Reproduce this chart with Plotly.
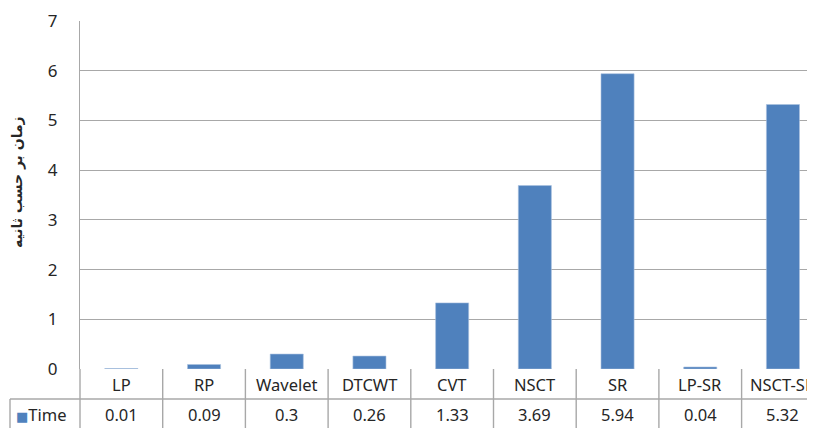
import plotly.graph_objects as go

categories = ["LP", "RP", "Wavelet", "DTCWT", "CVT", "NSCT", "SR", "LP-SR", "NSCT-SR"]
time_values = [0.01, 0.09, 0.3, 0.26, 1.33, 3.69, 5.94, 0.04, 5.32]
value_labels = ["0.01", "0.09", "0.3", "0.26", "1.33", "3.69", "5.94", "0.04", "5.32"]
series_name = "Time"
y_title = "زمان بر حسب ثانیه"
y_ticks = [0, 1, 2, 3, 4, 5, 6, 7]

# page body has an 8px margin; size the figure so it fills the 815x428 window
OFF = 8
W, H = 815 - OFF, 428 - OFF
ML, MT, MB = 80 - OFF, 21 - OFF, 59
plot_h = H - MT - MB
plot_w = W - ML
cat_px = 82.7

bar_color = "#4f81bd"
grid_color = "#a8a8a8"
text_color = "#262626"
font_family = "Noto Sans, Open Sans, DejaVu Sans, sans-serif"

fig = go.Figure()
fig.add_trace(go.Bar(
    x=categories, y=time_values, name=series_name,
    marker=dict(color=bar_color, line=dict(color="#a9c1df", width=0.6)),
    width=0.4, showlegend=False,
))

n = len(categories)
x_max = -0.5 + plot_w / cat_px

def py(px):
    # screen pixel y (from window top) -> paper coordinate
    return (H - MB - (px - OFF)) / plot_h

def pxx(px):
    return (px - OFF - ML) / plot_w

shapes = []
line = dict(color=grid_color, width=1.4)
# table horizontal line between category row and value row
shapes.append(dict(type="line", xref="paper", yref="paper", x0=pxx(10), x1=1.0,
                   y0=py(399), y1=py(399), line=line, layer="above"))
# left axis extension down through table
shapes.append(dict(type="line", xref="paper", yref="paper", x0=0, x1=0,
                   y0=0, y1=py(430), line=line, layer="above"))
# left border of legend cell
shapes.append(dict(type="line", xref="paper", yref="paper", x0=pxx(10), x1=pxx(10),
                   y0=py(399), y1=py(430), line=line, layer="above"))
# category dividers
for i in range(n):
    shapes.append(dict(type="line", xref="x", yref="paper", x0=i + 0.5, x1=i + 0.5,
                       y0=0, y1=py(430), line=line, layer="above"))

annotations = []
for i, c in enumerate(categories):
    annotations.append(dict(x=c, xref="x", y=py(384), yref="paper", text=c,
                            showarrow=False, xanchor="center", yanchor="middle",
                            font=dict(size=16.5, color=text_color, family=font_family)))
    annotations.append(dict(x=c, xref="x", y=py(414), yref="paper", text=value_labels[i],
                            showarrow=False, xanchor="center", yanchor="middle",
                            font=dict(size=16.5, color=text_color, family=font_family)))
# legend key in table
annotations.append(dict(x=pxx(14), xref="paper", y=py(414), yref="paper",
                        text="<span style='color:%s;font-size:13px'>■</span>%s" % (bar_color, series_name),
                        showarrow=False, xanchor="left", yanchor="middle",
                        font=dict(size=16.5, color=text_color, family=font_family)))
# y axis title
annotations.append(dict(x=pxx(17), xref="paper", y=py(182), yref="paper", text="<b>%s</b>" % y_title,
                        showarrow=False, textangle=-90, xanchor="center", yanchor="middle",
                        font=dict(size=14, color=text_color, family="DejaVu Sans, Noto Sans, sans-serif")))

fig.update_layout(
    width=W, height=H,
    margin=dict(l=ML, r=0, t=MT, b=MB, pad=0, autoexpand=False),
    paper_bgcolor="white", plot_bgcolor="white",
    bargap=0.6,
    xaxis=dict(type="category", range=[-0.5, x_max], showticklabels=False, showgrid=False,
               zeroline=False, showline=False, ticks=""),
    yaxis=dict(range=[0, 7], tickvals=y_ticks, showgrid=True, gridcolor=grid_color, gridwidth=1.4,
               showline=True, linecolor=grid_color, linewidth=1.4, zeroline=False, ticks="",
               ticklabelstandoff=18,
               tickfont=dict(size=17, color=text_color, family=font_family)),
    shapes=shapes, annotations=annotations,
)

fig.write_html("out.html")
